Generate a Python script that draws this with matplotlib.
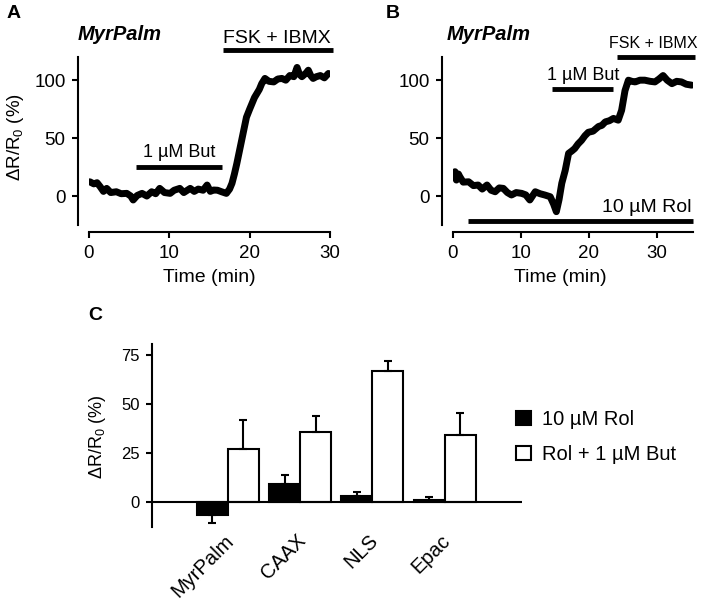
import matplotlib
matplotlib.use("Agg")
import matplotlib.pyplot as plt
from matplotlib.patches import Patch
from matplotlib.transforms import ScaledTranslation
import numpy as np

plt.rcParams['font.family'] = ['Liberation Sans', 'DejaVu Sans']
plt.rcParams['mathtext.fontset'] = 'custom'
plt.rcParams['mathtext.rm'] = 'Liberation Sans'
plt.rcParams['mathtext.it'] = 'Liberation Sans:italic'
plt.rcParams['mathtext.default'] = 'regular'

# ---------------- Data ----------------
# Panel A trace (time in min, dR/R0 in %)
tA = [0.1, 0.6, 1.0, 1.4, 1.8, 2.2, 2.7, 3.4, 4.0, 4.7, 5.2, 5.5, 6.0, 6.6, 7.2, 7.8,
      8.3, 8.8, 9.4, 10.1, 10.6, 11.3, 11.8, 12.6, 13.1, 13.6, 14.2, 14.7, 15.1, 15.5,
      16.0, 16.5, 17.1, 17.5, 17.8, 18.1, 18.4, 18.7, 19.0, 19.3, 19.6, 20.0, 20.3,
      20.6, 20.9, 21.2, 21.5, 21.9, 22.4, 23.0, 23.5, 24.0, 24.5, 25.0, 25.5, 25.9,
      26.2, 26.5, 27.0, 27.3, 27.6, 27.9, 28.3, 28.8, 29.3, 29.8]
vA = [12.3, 10.5, 11.5, 8, 4, 6.6, 3, 3.7, 2, 2.3, 0, -3.4, 0.5, 2.3, 0, 3.7,
      2, 6.6, 3, 2.3, 5, 6.6, 3, 6.6, 4, 6, 5, 9.5, 4, 5.2,
      5, 3.7, 2.3, 6, 11, 19, 28, 38, 48, 58, 68, 75, 80,
      85, 88.5, 92, 97, 101.5, 99, 98.5, 101, 101.5, 100, 104, 103, 111,
      105, 103, 106, 108.6, 104, 101.5, 103, 104, 102, 105.8]

# Panel B trace
tB = [0.0, 0.3, 0.5, 0.8, 1.0, 1.5, 2.3, 3.0, 3.7, 4.3, 5.0, 5.6, 6.2, 6.8, 7.4, 8.0,
      8.6, 9.3, 10.1, 10.7, 11.3, 12.1, 12.8, 13.5, 14.3, 14.8, 15.2, 15.6, 16.0, 16.5,
      17.0, 17.5, 17.9, 18.4, 18.9, 19.4, 19.9, 20.6, 21.4, 21.9, 22.4, 23.0, 23.6,
      24.3, 24.8, 25.3, 25.8, 26.3, 26.8, 27.5, 28.2, 29.0, 29.7, 30.3, 30.9, 31.5,
      32.2, 32.9, 33.6, 34.3, 35.1]
vB = [18, 21, 13.8, 19, 16.7, 12, 12.3, 9, 9.5, 6, 9.5, 5, 3.7, 7, 6.6, 3,
      0.9, 3, 2.3, 1, -3.4, 3.7, 2, 0.9, -0.6, -7, -13.5, -3, 11, 22,
      36.8, 39, 41, 45, 48, 52, 55, 56, 60, 61, 64, 65, 67,
      65.5, 74, 91, 100, 99, 98.5, 100, 100, 99, 98.5, 101, 104, 100,
      97, 99, 98.5, 96.5, 95.7]

# Drug application periods (start, end) in min
butA = (5.9, 16.5)
fskA = (16.7, 30.4)
rolB = (2.2, 35.3)
butB = (14.5, 23.6)
fskB = (24.1, 35.6)

# Panel C
categories = ['MyrPalm', 'CAAX', 'NLS', 'Epac']
rol_mean = [-6.6, 9.0, 3.0, 0.8]
rol_err = [4.0, 5.0, 2.0, 2.0]
but_mean = [27.2, 35.5, 66.5, 34.0]
but_err = [14.4, 8.2, 5.2, 11.6]
legend_labels = ['10 \u00b5M Rol', 'Rol + 1 \u00b5M But']

# ---------------- Figure ----------------
W, H = 709, 601
fig = plt.figure(figsize=(W / 100, H / 100), dpi=100)

def fpos(l, r, t, b):
    return [l / W, 1 - b / H, (r - l) / W, (b - t) / H]

SP_LW = 1.5

def style_trace_axes(ax):
    for s in ['top', 'right']:
        ax.spines[s].set_visible(False)
    ax.spines['left'].set_position(('outward', 11 * 0.72))
    ax.spines['bottom'].set_position(('outward', 7 * 0.72))
    for s in ['left', 'bottom']:
        ax.spines[s].set_linewidth(SP_LW)
    ax.tick_params(width=SP_LW, length=4, labelsize=13.5, pad=5, direction='out')

trace_kw = dict(color='k', lw=5, solid_joinstyle='round', solid_capstyle='round')
bar_kw = dict(color='k', lw=3.5, solid_capstyle='butt', clip_on=False)

# Panel A
axA = fig.add_axes(fpos(89, 330, 57, 225))
axA.plot(tA, vA, **trace_kw)
axA.set_xlim(0, 30)
axA.set_ylim(-25, 120)
axA.set_xticks([0, 10, 20, 30])
axA.set_yticks([0, 50, 100])
style_trace_axes(axA)
axA.plot(butA, [24.7, 24.7], **bar_kw)
axA.plot(fskA, [126, 126], **bar_kw)
axA.text(np.mean(butA), 38, '1 \u00b5M But', ha='center', va='center', fontsize=13)
axA.text(23.4, 136, 'FSK + IBMX', ha='center', va='center', fontsize=14)
axA.set_xlabel('Time (min)', fontsize=14)
axA.xaxis.set_label_coords(0.498, -0.315)
axA.xaxis.label.set_va('center')
axA.set_ylabel('\u0394R/R$_0$ (%)', fontsize=13.5)
axA.yaxis.label.set_va('center')
axA.yaxis.set_label_coords((16 - 89) / 241, (225 - 137) / 168)

# Panel B
axB = fig.add_axes(fpos(453, 693, 57, 225))
axB.plot(tB, vB, **trace_kw)
axB.set_xlim(0, 35.3)
axB.set_ylim(-25, 120)
axB.set_xticks([0, 10, 20, 30])
axB.set_yticks([0, 50, 100])
style_trace_axes(axB)
axB.plot(rolB, [-21.5, -21.5], **bar_kw)
axB.plot(butB, [92, 92], **bar_kw)
axB.plot(fskB, [120, 120], **bar_kw)
axB.text(19.1, 104, '1 \u00b5M But', ha='center', va='center', fontsize=13)
axB.text(29.4, 132, 'FSK + IBMX', ha='center', va='center', fontsize=11.5)
axB.text(35.1, -9.5, '10 \u00b5M Rol', ha='right', va='center', fontsize=14)
axB.set_xlabel('Time (min)', fontsize=14)
axB.xaxis.set_label_coords((560 - 453) / 240, -0.315)
axB.xaxis.label.set_va('center')

# Panel C
axC = fig.add_axes(fpos(152, 522, 344, 527))
x = np.arange(len(categories))
w = 0.43
axC.bar(x - w / 2, rol_mean, w, color='k', edgecolor='k', lw=1.5, zorder=2)
axC.bar(x + w / 2, but_mean, w, color='w', edgecolor='k', lw=1.5, zorder=2)
rm = np.array(rol_mean)
re = np.array(rol_err)
axC.errorbar(x - w / 2, rm, yerr=[np.where(rm < 0, re, 0), np.where(rm >= 0, re, 0)],
             fmt='none', ecolor='k', elinewidth=1.5, capsize=3, capthick=1.5, zorder=3)
axC.errorbar(x + w / 2, but_mean, yerr=[np.zeros(len(x)), but_err],
             fmt='none', ecolor='k', elinewidth=1.5, capsize=3, capthick=1.5, zorder=3)
axC.axhline(0, color='k', lw=SP_LW, zorder=4)
axC.set_xlim(-1.05, 4.07)
axC.set_ylim(-12.7, 80.5)
for s in ['top', 'right', 'bottom']:
    axC.spines[s].set_visible(False)
axC.spines['left'].set_linewidth(SP_LW)
axC.set_yticks([0, 25, 50, 75])
axC.tick_params(axis='y', width=SP_LW, length=4, labelsize=12, pad=5)
axC.set_xticks(x)
axC.set_xticklabels(categories, rotation=45, ha='right', va='top', rotation_mode='anchor',
                    fontsize=14.5)
axC.tick_params(axis='x', length=0, pad=3)
shift = ScaledTranslation(-4 / 100, 0, fig.dpi_scale_trans)
for lab in axC.get_xticklabels():
    lab.set_transform(lab.get_transform() + shift)
axC.set_ylabel('\u0394R/R$_0$ (%)', fontsize=13)
axC.yaxis.label.set_va('center')
axC.yaxis.set_label_coords((98 - 152) / 370, (527 - 437) / 183)

handles = [Patch(facecolor='k', edgecolor='k', lw=1.5),
           Patch(facecolor='w', edgecolor='k', lw=1.5)]
fig.legend(handles, legend_labels, loc='upper left', bbox_to_anchor=(516 / W, 1 - 410 / H),
           frameon=False, fontsize=14.5, handlelength=0.75, handleheight=0.65,
           handletextpad=0.55, labelspacing=0.8, borderpad=0, borderaxespad=0)

# Titles and panel letters
fig.text(78 / W, 1 - 35 / H, 'MyrPalm', fontsize=14.5, fontweight='bold', fontstyle='italic',
         ha='left', va='center')
fig.text(447 / W, 1 - 35 / H, 'MyrPalm', fontsize=14.5, fontweight='bold', fontstyle='italic',
         ha='left', va='center')
fig.text(14 / W, 1 - 14 / H, 'A', fontsize=14, fontweight='bold', ha='center', va='center')
fig.text(393 / W, 1 - 14 / H, 'B', fontsize=14, fontweight='bold', ha='center', va='center')
fig.text(95 / W, 1 - 315 / H, 'C', fontsize=14, fontweight='bold', ha='center', va='center')

fig.savefig('out.png', dpi=100)
